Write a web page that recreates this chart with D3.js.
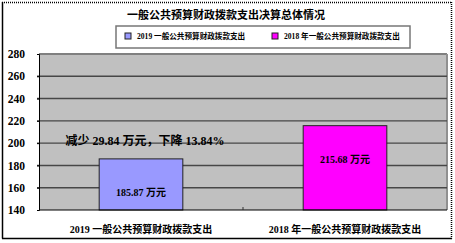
<!DOCTYPE html>
<html>
<head>
<meta charset="utf-8">
<script src="https://cdn.jsdelivr.net/npm/d3@7"></script>
<style>
body{margin:0;background:#fff;}
text{font-family:"Liberation Serif","Noto Sans CJK SC",serif;font-weight:bold;fill:#000;}
</style>
</head>
<body>
<svg width="455" height="243"></svg>
<script>
var categories = ["2019 一般公共预算财政拨款支出", "2018 年一般公共预算财政拨款支出"];
var legendNames = ["2019 一般公共预算财政拨款支出", "2018 年一般公共预算财政拨款支出"];
var values = [185.87, 215.68];
var valueLabels = ["185.87 万元", "215.68 万元"];
var yTicks = [140, 160, 180, 200, 220, 240, 260, 280];
var note = "减少 29.84 万元，下降 13.84%";
var title = "一般公共预算财政拨款支出决算总体情况";

var svg = d3.select("svg"),
    wth = +svg.attr("width"),
    hgt = +svg.attr("height");
var colors = ["#9999ff", "#ff00ff"];

var pL = 39, pR = 447, pT = 54, pB = 210;

// outer frame: solid left/bottom, dotted top/right
svg.append("line").attr("x1",2.5).attr("y1",2).attr("x2",2.5).attr("y2",238.5).attr("stroke","#000").attr("stroke-width",1.5);
svg.append("line").attr("x1",2).attr("y1",238.5).attr("x2",452).attr("y2",238.5).attr("stroke","#000").attr("stroke-width",1.5);
svg.append("line").attr("x1",2).attr("y1",2.5).attr("x2",452).attr("y2",2.5).attr("stroke","#000").attr("stroke-width",1.5).attr("stroke-dasharray","1,1");
svg.append("line").attr("x1",451.5).attr("y1",2).attr("x2",451.5).attr("y2",238.5).attr("stroke","#000").attr("stroke-width",1.5).attr("stroke-dasharray","1,1");

var x = d3.scaleBand().domain(categories).range([pL, pR]).padding(0);
var y = d3.scaleLinear().domain([140, 280]).range([pB, pT]);
var barW = x.bandwidth() * 0.41;

// plot area
svg.append("rect").attr("x",pL).attr("y",pT).attr("width",pR-pL).attr("height",pB-pT).attr("fill","#c0c0c0");
svg.append("line").attr("x1",pL).attr("y1",pT).attr("x2",pR).attr("y2",pT).attr("stroke","#808080").attr("stroke-width",2);
svg.append("line").attr("x1",pR).attr("y1",pT).attr("x2",pR).attr("y2",pB).attr("stroke","#909090").attr("stroke-width",2);

// grid
svg.append("g").selectAll("line").data(yTicks.slice(1, -1)).enter().append("line")
   .attr("x1",pL-2).attr("x2",pR)
   .attr("y1",d=>y(d)).attr("y2",d=>y(d))
   .attr("stroke","#474747").attr("stroke-width",1.4);

// y axis
var yAxis = svg.append("g").attr("transform","translate("+pL+",0)")
   .call(d3.axisLeft(y).tickValues(yTicks).tickSize(2).tickPadding(12));
yAxis.select(".domain").attr("stroke","#000");
yAxis.selectAll("text").attr("font-family","DejaVu Sans").attr("font-size",11.5).attr("font-weight","bold").attr("fill","#000");

// bars
svg.append("g").selectAll("rect").data(values).enter().append("rect")
   .attr("x",(d,i)=>x(categories[i]) + (x.bandwidth()-barW)/2)
   .attr("y",d=>y(d))
   .attr("width",barW)
   .attr("height",d=>pB-y(d))
   .attr("fill",(d,i)=>colors[i])
   .attr("stroke","#222").attr("stroke-width",1);

// x axis
svg.append("line").attr("x1",pL).attr("x2",pR).attr("y1",pB).attr("y2",pB).attr("stroke","#000").attr("stroke-width",1.2);
svg.append("line").attr("x1",pL+x.bandwidth()).attr("x2",pL+x.bandwidth()).attr("y1",pB).attr("y2",pB-3).attr("stroke","#333");

svg.append("g").selectAll("text").data(categories).enter().append("text")
   .attr("x",d=>x(d)+x.bandwidth()/2)
   .attr("y",233)
   .attr("text-anchor","middle")
   .attr("font-size",10)
   .text(d=>d);

// value labels
svg.append("g").selectAll("text").data(values).enter().append("text")
   .attr("x",(d,i)=>x(categories[i])+x.bandwidth()/2)
   .attr("y",d=>y(d)+37)
   .attr("text-anchor","middle")
   .attr("font-size",10)
   .text((d,i)=>valueLabels[i]);

// note
svg.append("text").attr("x",x(categories[0])+x.bandwidth()/2+4).attr("y",y(200)+2)
   .attr("text-anchor","middle").attr("font-size",12).text(note);

// title
svg.append("text").attr("x",226).attr("y",19).attr("text-anchor","middle").attr("font-size",11).text(title);

// legend
svg.append("rect").attr("x",116).attr("y",26).attr("width",294).attr("height",22)
   .attr("fill","#fff").attr("stroke","#777").attr("stroke-width",1.5);
var lx = [125, 272];
var lg = svg.append("g").selectAll("g").data(legendNames).enter().append("g")
   .attr("transform",(d,i)=>"translate("+lx[i]+",33)");
lg.append("rect").attr("width",6).attr("height",6).attr("fill",(d,i)=>colors[i]).attr("stroke","#222");
lg.append("text").attr("x",12).attr("y",6).attr("font-size",7.6).text(d=>d);
</script>
</body>
</html>
